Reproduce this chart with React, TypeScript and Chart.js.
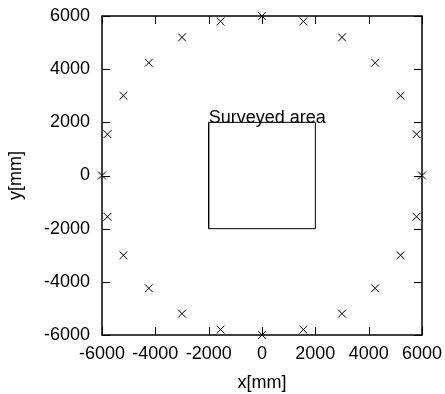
import React, { useEffect, useRef } from "react";
import { Chart, registerables } from "chart.js";

Chart.register(...registerables);

const pointsX = [6000, 5796, 5196, 4243, 3000, 1553, 0, -1553, -3000, -4243, -5196, -5796, -6000, -5796, -5196, -4243, -3000, -1553, 0, 1553, 3000, 4243, 5196, 5796];
const pointsY = [0, 1553, 3000, 4243, 5196, 5796, 6000, 5796, 5196, 4243, 3000, 1553, 0, -1553, -3000, -4243, -5196, -5796, -6000, -5796, -5196, -4243, -3000, -1553];
const areaX = [-2000, 2000, 2000, -2000, -2000];
const areaY = [-2000, -2000, 2000, 2000, -2000];
const areaLabel = "Surveyed area";
const tickValues = [-6000, -4000, -2000, 0, 2000, 4000, 6000];

const FONT = "'Liberation Sans', Arial, Helvetica, sans-serif";
const FS = 18;

const framePlugin = {
  id: "frame",
  afterDraw(chart: any) {
    const { ctx, chartArea, scales } = chart;
    const { left, right, top, bottom } = chartArea;
    ctx.save();
    ctx.strokeStyle = "#000";
    ctx.lineWidth = 1;
    const tl = 8;
    ctx.beginPath();
    for (const v of tickValues) {
      const px = Math.round(scales.x.getPixelForValue(v)) + 0.5;
      ctx.moveTo(px, bottom);
      ctx.lineTo(px, bottom - tl);
      ctx.moveTo(px, top);
      ctx.lineTo(px, top + tl);
      const py = Math.round(scales.y.getPixelForValue(v)) + 0.5;
      ctx.moveTo(left, py);
      ctx.lineTo(left + tl, py);
      ctx.moveTo(right, py);
      ctx.lineTo(right - tl, py);
    }
    ctx.stroke();
    ctx.lineWidth = 1.5;
    ctx.strokeRect(left, top, right - left, bottom - top);
    ctx.fillStyle = "#000";
    ctx.font = `${FS}px ${FONT}`;
    ctx.textAlign = "left";
    ctx.textBaseline = "alphabetic";
    ctx.fillText(areaLabel, scales.x.getPixelForValue(areaX[0]), scales.y.getPixelForValue(areaY[2]) + 1);
    ctx.restore();
  },
};

const noPad = (s: any) => {
  s.paddingLeft = 0;
  s.paddingRight = 0;
  s.paddingTop = 0;
  s.paddingBottom = 0;
};

export default function App() {
  const ref = useRef<HTMLCanvasElement>(null);
  useEffect(() => {
    const chart = new Chart(ref.current!, {
      type: "scatter",
      data: {
        datasets: [
          {
            data: pointsX.map((x, i) => ({ x, y: pointsY[i] })),
            pointStyle: "crossRot",
            pointRadius: 5.5,
            borderColor: "#000",
            borderWidth: 1,
            clip: false as any,
          },
          {
            data: areaX.map((x, i) => ({ x, y: areaY[i] })),
            showLine: true,
            pointRadius: 0,
            borderColor: "#000",
            borderWidth: 1,
          },
        ],
      },
      options: {
        animation: false,
        responsive: false,
        maintainAspectRatio: false,
        layout: { padding: { top: 16, right: 23, left: 0, bottom: 0 } },
        plugins: { legend: { display: false }, tooltip: { enabled: false } },
        scales: {
          x: {
            type: "linear",
            min: -6000,
            max: 6000,
            afterBuildTicks: (s: any) => {
              s.ticks = tickValues.map((v) => ({ value: v }));
            },
            afterFit: (s: any) => {
              s.height = 59;
              noPad(s);
            },
            grid: { display: false, drawTicks: false },
            border: { display: false },
            ticks: {
              color: "#000",
              font: { family: FONT, size: FS },
              padding: 8,
              maxRotation: 0,
              autoSkip: false,
              callback: (v: any) => String(v),
            },
            title: { display: true, text: "x[mm]", color: "#000", font: { family: FONT, size: FS }, padding: { top: 4, bottom: 0 } },
          },
          y: {
            type: "linear",
            min: -6000,
            max: 6000,
            afterBuildTicks: (s: any) => {
              s.ticks = tickValues.map((v) => ({ value: v }));
            },
            afterFit: (s: any) => {
              s.width = 102;
              noPad(s);
            },
            grid: { display: false, drawTicks: false },
            border: { display: false },
            ticks: {
              color: "#000",
              font: { family: FONT, size: FS },
              padding: 12,
              autoSkip: false,
              callback: (v: any) => String(v),
            },
            title: { display: true, text: "y[mm]", color: "#000", font: { family: FONT, size: FS }, padding: { top: 5, bottom: 0 } },
          },
        },
      },
      plugins: [framePlugin],
    } as any);
    return () => chart.destroy();
  }, []);
  return (
    <div style={{ position: "absolute", left: 0, top: 0, width: 445, height: 394, background: "#fff" }}>
      <canvas ref={ref} width={445} height={394} style={{ width: 445, height: 394 }} />
    </div>
  );
}
